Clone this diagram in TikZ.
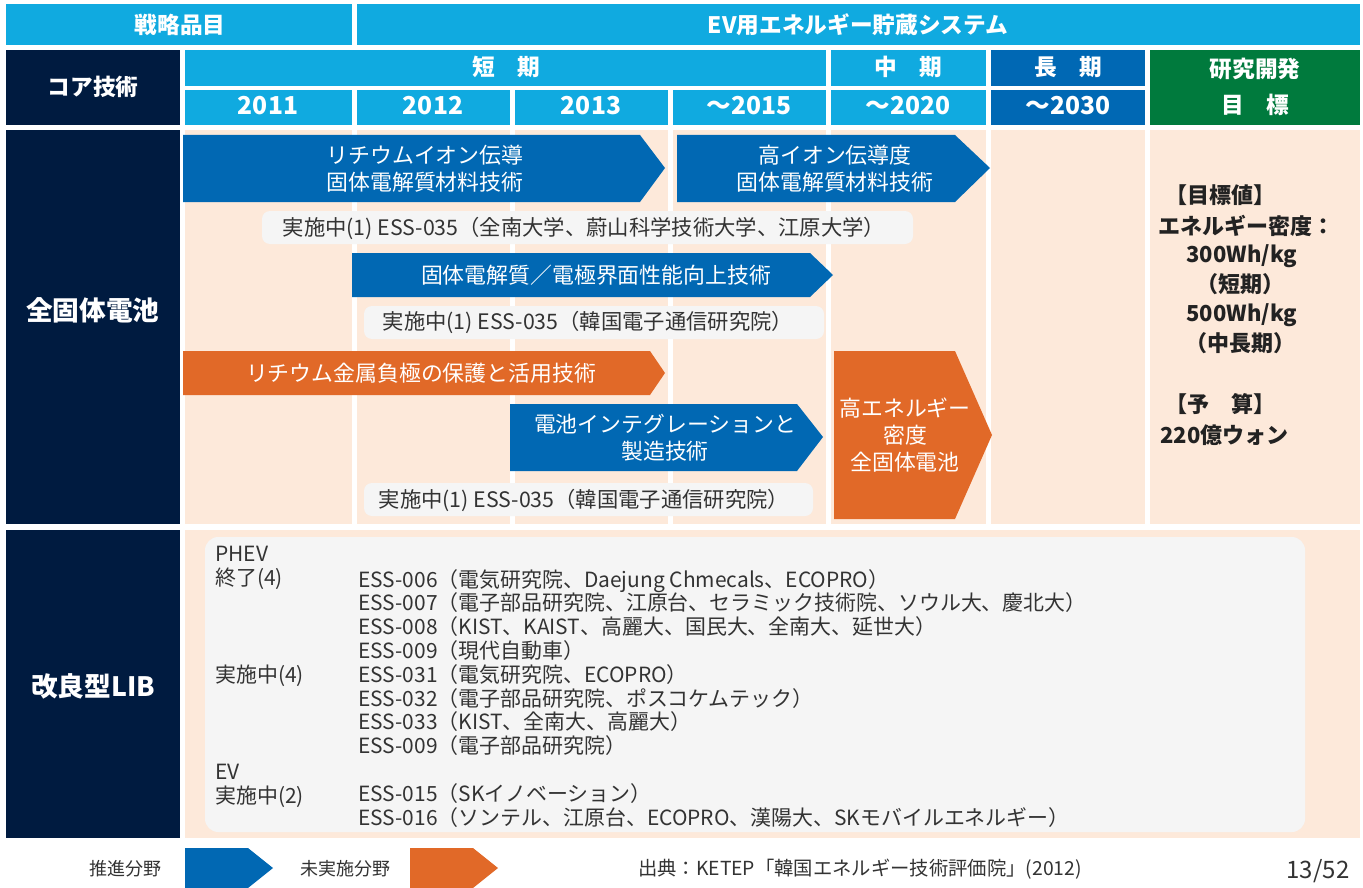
\documentclass[tikz,border=0pt]{standalone}
\usepackage{fontspec}
\setmainfont{Noto Sans CJK JP}
\definecolor{hdrblue}{RGB}{16,170,224}
\definecolor{navy}{RGB}{0,27,64}
\definecolor{deepblue}{RGB}{0,104,180}
\definecolor{arrblue}{RGB}{1,104,179}
\definecolor{arrorange}{RGB}{225,105,40}
\definecolor{goalgreen}{RGB}{0,122,61}
\definecolor{peach}{RGB}{253,233,218}
\definecolor{notegray}{RGB}{245,245,245}
\definecolor{txtgray}{RGB}{51,51,51}
\definecolor{goalgray}{RGB}{34,34,34}
\begin{document}
\begin{tikzpicture}[x=0.75pt,y=0.75pt,yscale=-1,xscale=1,
  hdr/.style={text=white,font=\fontsize{17}{21}\selectfont\bfseries},
  yr/.style={text=white,font=\fontsize{18.5}{21}\selectfont\bfseries},
  sect/.style={text=white,font=\fontsize{20}{24}\selectfont\bfseries},
  arrtxt/.style={text=white,align=center,font=\fontsize{16.4}{20.5}\selectfont},
  notetxt/.style={text=txtgray,font=\fontsize{16}{18}\selectfont},
  listtxt/.style={text=txtgray,align=left,inner sep=0pt,font=\fontsize{15.7}{17.85}\selectfont},
  goaltxt/.style={text=goalgray,font=\fontsize{16.5}{20}\selectfont\bfseries},
  legtxt/.style={text=txtgray,font=\fontsize{13.5}{16}\selectfont}]
\useasboundingbox (0,0) rectangle (1363,888);
\fill [white] (0,0) rectangle (1363,888);

%Shape: Rectangle [header row]
\fill [hdrblue] (6,4) rectangle (352,45);
\fill [hdrblue] (357,4) rectangle (1360,45);
%Shape: Rectangle [core tech]
\fill [navy] (6,50) rectangle (180,125);
%Shape: Rectangle [terms]
\fill [hdrblue] (185,50) rectangle (826,86);
\fill [hdrblue] (831,50) rectangle (986,86);
\fill [deepblue] (991,50) rectangle (1145,86);
\fill [goalgreen] (1150,50) rectangle (1360,125);
%Shape: Rectangle [years]
\fill [hdrblue] (185,90) rectangle (352,125);
\fill [hdrblue] (357,90) rectangle (510,125);
\fill [hdrblue] (515,90) rectangle (668,125);
\fill [hdrblue] (673,90) rectangle (826,125);
\fill [hdrblue] (831,90) rectangle (986,125);
\fill [deepblue] (991,90) rectangle (1145,125);

%Shape: Rectangle [all solid state]
\fill [navy] (6,130) rectangle (180,524);
\fill [peach] (185,130) rectangle (352,524);
\fill [peach] (357,130) rectangle (510,524);
\fill [peach] (515,130) rectangle (668,524);
\fill [peach] (673,130) rectangle (826,524);
\fill [peach] (831,130) rectangle (986,524);
\fill [peach] (991,130) rectangle (1145,524);
\fill [peach] (1150,130) rectangle (1360,524);
%Shape: Rectangle [improved LIB]
\fill [navy] (6,530) rectangle (180,838);
\fill [peach] (185,530) rectangle (1360,838);
\fill [notegray, rounded corners=10] (205,537) rectangle (1305,832);

%Shape: Arrow [blue]
\fill [arrblue] (183,135) -- (640,135) -- (665,168) -- (640,202) -- (183,202) -- cycle ;
\fill [arrblue] (677,135) -- (955,135) -- (990,168) -- (955,202) -- (677,202) -- cycle ;
\fill [arrblue] (352,253) -- (810,253) -- (833,275) -- (810,297) -- (352,297) -- cycle ;
\fill [arrblue] (510,404) -- (797,404) -- (823,437) -- (797,471) -- (510,471) -- cycle ;
%Shape: Arrow [orange]
\fill [arrorange] (183,351) -- (650,351) -- (665,373) -- (650,395) -- (183,395) -- cycle ;
\fill [arrorange] (834,351) -- (955,351) -- (992,435) -- (955,519) -- (834,519) -- cycle ;
%Shape: Rounded Rectangle [notes]
\fill [notegray, rounded corners=6] (262,211) rectangle (913,244);
\fill [notegray, rounded corners=6] (364,306) rectangle (824,339);
\fill [notegray, rounded corners=6] (364,483) rectangle (813,516);

% Text Node
\draw (180,25) node (item) [hdr] {戦略品目};
\draw (858,25) node (ess) [hdr] {EV用エネルギー貯蔵システム};
\draw (93,87) node (core) [hdr] {コア技術};
\draw (506,67) node (short) [hdr] {短\hspace{1em}期};
\draw (908,67) node (mid) [hdr] {中\hspace{1em}期};
\draw (1068,67) node (long) [hdr] {長\hspace{1em}期};
\draw (1255,87) node (goal) [hdr, align=center, font=\fontsize{17}{27}\selectfont\bfseries] {研究開発\\目\hspace{1em}標};
\draw (268,106) node (y2011) [yr] {2011};
\draw (433,106) node (y2012) [yr] {2012};
\draw (591,106) node (y2013) [yr] {2013};
\draw (749,106) node (y2015) [yr] {～2015};
\draw (908,106) node (y2020) [yr] {～2020};
\draw (1068,106) node (y2030) [yr] {～2030};
\draw (93,310) node (sss) [sect] {全固体電池};
\draw (93,686) node (lib) [sect] {改良型LIB};

% Text Node
\draw (425,169) node (lic) [arrtxt] {リチウムイオン伝導\\固体電解質材料技術};
\draw (835,169) node (hic) [arrtxt] {高イオン伝導度\\固体電解質材料技術};
\draw (596,275) node (itf) [arrtxt] {固体電解質／電極界面性能向上技術};
\draw (421,373) node (lma) [arrtxt] {リチウム金属負極の保護と活用技術};
\draw (665,438) node (integ) [arrtxt] {電池インテグレーションと\\製造技術};
\draw (905,435) node (hed) [arrtxt, font=\fontsize{16.4}{20}\selectfont] {高エネルギー\\密度\\全固体電池};
\draw (584,228) node (note1) [notetxt] {実施中(1) ESS-035（全南大学、蔚山科学技術大学、江原大学）};
\draw (588,322) node (note2) [notetxt] {実施中(1) ESS-035（韓国電子通信研究院）};
\draw (584,500) node (note3) [notetxt] {実施中(1) ESS-035（韓国電子通信研究院）};

% Text Node
\draw (1165,195) node (tgt) [goaltxt, anchor=west, inner sep=0pt] {【目標値】};
\draw (1158,226) node (edens) [goaltxt, anchor=west, inner sep=0pt] {エネルギー密度：};
\draw (1242,256) node (wh300) [goaltxt] {300Wh/kg};
\draw (1240,284) node (shortp) [goaltxt] {（短期）};
\draw (1242,315) node (wh500) [goaltxt] {500Wh/kg};
\draw (1240,343) node (midp) [goaltxt] {（中長期）};
\draw (1165,404) node (budget) [goaltxt, anchor=west, inner sep=0pt] {【予\hspace{1em}算】};
\draw (1160,435) node (won) [goaltxt, anchor=west, inner sep=0pt] {220億ウォン};

% Text Node
\draw (215,546) node (stat) [listtxt, anchor=north west] {PHEV\\終了(4)\\[55pt]実施中(4)\\[55pt]EV\\実施中(2)};
\draw (358,569) node (proj) [listtxt, anchor=north west] {ESS-006（電気研究院、Daejung Chmecals、ECOPRO）\\
ESS-007（電子部品研究院、江原台、セラミック技術院、ソウル大、慶北大）\\
ESS-008（KIST、KAIST、高麗大、国民大、全南大、延世大）\\
ESS-009（現代自動車）\\
ESS-031（電気研究院、ECOPRO）\\
ESS-032（電子部品研究院、ポスコケムテック）\\
ESS-033（KIST、全南大、高麗大）\\
ESS-009（電子部品研究院）\\[17.85pt]
ESS-015（SKイノベーション）\\
ESS-016（ソンテル、江原台、ECOPRO、漢陽大、SKモバイルエネルギー）};

%Shape: Arrow [legend]
\fill [arrblue] (185,848) -- (248,848) -- (273,868) -- (248,888) -- (185,888) -- cycle ;
\fill [arrorange] (410,848) -- (473,848) -- (498,868) -- (473,888) -- (410,888) -- cycle ;
% Text Node
\draw (125,869) node (legb) [legtxt] {推進分野};
\draw (345,869) node (lego) [legtxt] {未実施分野};
\draw (860,869) node (src) [legtxt, font=\fontsize{14.5}{16}\selectfont] {出典：KETEP「韓国エネルギー技術評価院」(2012)};
\draw (1318,871) node (page) [text=txtgray, font=\fontsize{18}{20}\selectfont] {13/52};
\end{tikzpicture}
\end{document}
